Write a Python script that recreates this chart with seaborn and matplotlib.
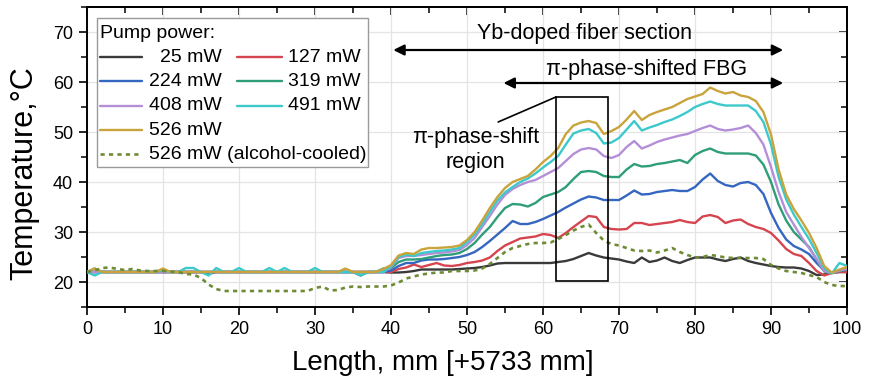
import matplotlib
matplotlib.use("Agg")
import matplotlib.pyplot as plt
import seaborn as sns
import pandas as pd
from matplotlib.ticker import MultipleLocator
from matplotlib.patches import Rectangle
from matplotlib.lines import Line2D

# ---------------- data ----------------
length_mm = list(range(0, 101))

p25 = [22.0, 22.0, 22.0, 22.0, 22.0, 22.0, 22.0, 22.0, 22.0, 22.0,
       22.0, 22.0, 22.0, 22.0, 22.0, 22.0, 22.0, 22.0, 22.0, 22.0,
       22.0, 22.0, 22.0, 22.0, 22.0, 22.0, 22.0, 22.0, 22.0, 22.0,
       22.0, 22.0, 22.0, 22.0, 22.0, 22.0, 22.0, 22.0, 22.0, 22.0,
       21.9, 21.9, 22.0, 22.2, 22.5, 22.5, 22.5, 22.5, 22.5, 22.6,
       22.7, 22.8, 23.0, 23.3, 23.7, 23.8, 23.8, 23.8, 23.8, 23.8,
       23.8, 23.8, 24.0, 24.2, 24.6, 25.2, 25.8, 25.3, 24.9, 24.7,
       24.5, 24.1, 23.8, 24.9, 24.0, 24.3, 24.9, 24.2, 23.8, 24.4,
       24.9, 24.9, 24.9, 24.5, 24.2, 24.6, 24.9, 24.2, 23.8, 23.5,
       23.2, 23.0, 22.9, 22.9, 22.7, 22.2, 21.4, 21.5, 21.9, 22.0, 22.0]

p127 = [22.0, 22.0, 22.0, 22.0, 22.0, 22.0, 22.0, 22.0, 22.0, 22.0,
        22.0, 22.0, 22.0, 22.0, 22.0, 22.0, 22.0, 22.0, 22.0, 22.0,
        22.0, 22.0, 22.0, 22.0, 22.0, 22.0, 22.0, 22.0, 22.0, 22.0,
        22.0, 22.0, 22.0, 22.0, 22.0, 22.0, 22.0, 22.0, 22.0, 22.0,
        22.0, 22.6, 22.9, 23.5, 23.0, 23.4, 23.8, 23.3, 23.2, 23.4,
        23.8, 24.0, 24.3, 24.9, 26.2, 27.3, 28.0, 28.7, 28.9, 29.1,
        29.6, 29.4, 28.8, 29.8, 31.0, 32.1, 33.2, 33.0, 31.0, 30.6,
        30.5, 30.6, 31.8, 31.8, 31.4, 31.6, 31.8, 32.0, 32.4, 32.0,
        31.8, 33.1, 33.4, 33.0, 31.8, 32.3, 32.5, 31.6, 31.0, 30.6,
        29.8, 28.3, 26.6, 25.6, 25.2, 23.8, 22.2, 21.3, 21.8, 22.0, 22.0]

p224 = [22.0, 22.0, 22.0, 22.0, 22.0, 22.0, 22.0, 22.0, 22.0, 22.0,
        22.0, 22.0, 22.0, 22.0, 22.0, 22.0, 21.6, 22.0, 22.0, 22.0,
        22.0, 22.0, 22.0, 22.0, 22.0, 22.0, 22.0, 22.0, 22.0, 22.0,
        22.0, 22.0, 22.0, 22.0, 22.0, 22.0, 21.3, 22.0, 22.0, 22.0,
        22.3, 23.2, 23.8, 23.8, 24.3, 24.5, 24.5, 24.6, 24.8, 25.0,
        25.4, 26.0, 27.0, 28.2, 29.5, 30.8, 32.2, 31.6, 31.6, 32.0,
        32.6, 33.3, 34.0, 34.9, 35.7, 36.5, 37.1, 36.9, 36.4, 36.4,
        36.4, 37.3, 38.3, 37.5, 37.6, 38.0, 38.2, 38.4, 38.2, 38.2,
        39.0, 40.5, 41.7, 40.2, 39.4, 39.1, 39.8, 40.0, 39.4, 37.6,
        33.8, 30.8, 28.5, 27.2, 26.5, 25.6, 23.8, 22.3, 21.9, 22.2, 22.5]

p319 = [22.0, 22.7, 22.0, 22.0, 22.0, 22.0, 22.0, 22.0, 22.0, 22.0,
        22.0, 22.0, 22.0, 22.0, 22.0, 22.0, 22.0, 22.0, 22.0, 22.0,
        22.0, 22.0, 22.0, 22.0, 22.0, 22.0, 22.0, 22.0, 22.0, 22.0,
        22.0, 22.0, 22.0, 22.0, 22.0, 22.0, 22.0, 22.0, 22.0, 22.7,
        22.8, 24.0, 24.5, 24.5, 24.6, 24.9, 25.2, 25.4, 25.5, 25.8,
        26.6, 27.8, 29.5, 31.0, 33.0, 34.8, 35.6, 35.5, 35.1, 35.8,
        37.0, 37.5, 38.0, 39.0, 40.6, 42.0, 42.2, 42.0, 41.2, 41.0,
        41.0, 42.5, 43.6, 43.1, 43.2, 43.6, 43.8, 44.1, 44.4, 43.8,
        45.4, 46.2, 46.7, 46.0, 45.7, 45.7, 45.7, 45.7, 45.3, 43.5,
        40.0, 35.5, 32.3, 30.0, 28.5, 27.0, 24.5, 22.1, 21.8, 22.2, 22.5]

p408 = [22.0, 22.0, 22.0, 22.0, 22.0, 22.0, 22.0, 22.0, 22.0, 22.0,
        22.0, 22.0, 22.0, 22.0, 22.0, 22.0, 22.0, 22.0, 22.0, 22.0,
        22.0, 22.0, 22.0, 22.0, 22.0, 22.0, 22.0, 22.0, 22.0, 22.0,
        22.0, 22.0, 22.0, 22.0, 22.0, 22.0, 22.0, 22.0, 22.0, 22.0,
        23.0, 24.8, 25.2, 25.2, 25.4, 25.6, 25.8, 25.9, 26.1, 26.4,
        27.4, 28.8, 31.0, 33.2, 35.5, 37.4, 38.6, 39.4, 40.0, 40.4,
        41.2, 42.0, 42.8, 44.2, 45.6, 46.5, 46.8, 46.5, 45.2, 44.8,
        45.4, 47.0, 48.2, 46.7, 47.3, 48.0, 48.5, 48.9, 49.3, 49.6,
        50.2, 50.8, 51.3, 50.6, 50.3, 50.5, 50.8, 51.3, 49.8, 47.5,
        43.0, 38.0, 34.0, 31.5, 29.0, 26.8, 24.6, 22.2, 21.8, 22.3, 22.6]

p491 = [22.0, 21.3, 22.0, 22.0, 22.0, 22.0, 22.0, 22.0, 22.0, 22.0,
        22.4, 22.0, 22.0, 22.8, 22.8, 22.0, 21.3, 22.8, 22.0, 22.0,
        22.8, 22.0, 22.0, 22.0, 22.8, 22.0, 22.8, 22.0, 22.0, 22.0,
        22.8, 22.0, 22.0, 22.0, 22.0, 22.0, 21.3, 22.0, 22.0, 22.0,
        23.2, 25.0, 25.5, 25.2, 25.8, 26.0, 26.2, 26.3, 26.5, 26.8,
        28.0, 29.5, 31.6, 34.0, 36.3, 37.9, 39.0, 40.0, 40.7, 41.7,
        42.9, 44.0, 45.2, 47.5, 49.7, 50.3, 50.6, 49.8, 47.7, 47.9,
        48.8, 50.5, 52.2, 50.3, 50.9, 51.4, 52.0, 52.5, 53.2, 54.0,
        55.0, 55.6, 56.1, 55.6, 55.3, 55.3, 55.3, 55.3, 54.2, 52.0,
        47.5, 41.0, 36.5, 33.5, 31.0, 28.6, 25.8, 22.8, 21.7, 23.8, 23.2]

p526 = [22.0, 22.7, 22.0, 22.0, 22.0, 22.0, 22.0, 22.0, 22.0, 22.0,
        22.7, 22.0, 22.0, 22.0, 22.0, 22.0, 22.0, 22.0, 22.0, 22.0,
        22.0, 22.0, 22.0, 22.0, 22.0, 22.0, 22.0, 22.0, 22.0, 22.0,
        22.0, 22.0, 22.0, 22.0, 22.7, 22.0, 22.0, 22.0, 22.0, 22.6,
        23.4, 25.3, 25.8, 25.6, 26.5, 26.8, 26.8, 26.9, 27.0, 27.3,
        28.4, 30.0, 32.3, 34.8, 37.0, 38.8, 40.0, 40.6, 41.2, 42.5,
        44.0, 45.2, 46.8, 49.6, 51.3, 51.9, 52.2, 51.8, 49.6, 50.2,
        51.0, 52.5, 54.2, 52.4, 53.4, 54.0, 54.5, 55.0, 55.8, 56.6,
        57.1, 57.6, 58.9, 58.2, 57.7, 58.0, 57.3, 57.0, 56.2, 54.0,
        49.5, 42.5, 37.5, 34.6, 32.3, 29.8, 26.8, 23.2, 21.9, 22.5, 23.0]

p526_cooled = [22.0, 22.3, 22.8, 22.9, 22.6, 22.4, 22.6, 22.3, 22.2, 22.2,
               22.2, 22.1, 22.0, 21.6, 21.5, 20.8, 19.5, 18.6, 18.2, 18.2,
               18.2, 18.2, 18.2, 18.2, 18.2, 18.2, 18.2, 18.2, 18.2, 18.2,
               18.8, 19.1, 18.3, 18.4, 18.9, 19.1, 19.0, 19.1, 19.1, 19.1,
               19.3, 19.9, 20.7, 21.1, 21.5, 21.7, 21.9, 21.9, 22.2, 22.2,
               22.2, 22.3, 22.7, 23.6, 24.8, 26.0, 26.8, 27.2, 27.6, 27.8,
               27.8, 27.9, 28.6, 29.4, 30.3, 31.0, 31.5, 29.8, 28.3, 27.6,
               27.3, 26.8, 26.3, 26.2, 26.3, 25.9, 26.3, 26.8, 26.0, 25.4,
               24.9, 25.0, 25.4, 25.2, 24.9, 24.8, 24.8, 24.8, 24.8, 24.6,
               23.4, 22.7, 22.2, 22.0, 21.8, 21.4, 21.0, 20.0, 19.4, 19.2, 19.2]

power_labels = ["25 mW", "127 mW", "224 mW", "319 mW", "408 mW", "491 mW", "526 mW"]
cooled_label = "526 mW (alcohol-cooled)"
series = [p25, p127, p224, p319, p408, p491, p526]
colors = ["#3a3a3a", "#d6454f", "#3566c0", "#2e9e78", "#b48fd8", "#3cc9cc", "#c9a43c"]
cooled_color = "#6e8b35"

x_ticks = [0, 10, 20, 30, 40, 50, 60, 70, 80, 90, 100]
y_ticks = [20, 30, 40, 50, 60, 70]

# ---------------- style ----------------
sns.set_style("ticks")
plt.rcParams["font.family"] = ["Liberation Sans", "DejaVu Sans"]
plt.rcParams["axes.linewidth"] = 1.4
plt.rcParams["text.color"] = "black"
plt.rcParams["axes.labelcolor"] = "black"
plt.rcParams["xtick.color"] = "black"
plt.rcParams["ytick.color"] = "black"
plt.rcParams["xtick.labelcolor"] = "black"
plt.rcParams["ytick.labelcolor"] = "black"

fig = plt.figure(figsize=(8.69, 3.84), dpi=100)
ax = fig.add_axes([0.1001, 0.2005, 0.8746, 0.78125])

rows = []
for lab, vals in zip(power_labels, series):
    for xv, yv in zip(length_mm, vals):
        rows.append({"Length": xv, "T": yv, "Power": lab})
df = pd.DataFrame(rows)

sns.lineplot(data=df, x="Length", y="T", hue="Power", hue_order=power_labels,
             palette=dict(zip(power_labels, colors)), linewidth=1.7,
             legend=False, ax=ax, zorder=3)
sns.lineplot(x=length_mm, y=p526_cooled, color=cooled_color, linewidth=1.9,
             linestyle=(0, (1.6, 1.6)), ax=ax, zorder=4)

ax.set_xlim(0, 100)
ax.set_ylim(15, 75)
ax.set_xticks(x_ticks)
ax.set_yticks(y_ticks)
ax.xaxis.set_minor_locator(MultipleLocator(5))
ax.yaxis.set_minor_locator(MultipleLocator(5))
ax.tick_params(which="major", direction="out", length=6, width=1.2,
               labelsize=13, pad=4, color="black", labelcolor="black")
ax.tick_params(which="minor", direction="out", length=4, width=1.1, color="black")
ax.grid(True, which="major", color="#e4e4e4", linewidth=0.9, zorder=0)
for s in ax.spines.values():
    s.set_color("black")
    s.set_linewidth(1.4)

secx = ax.secondary_xaxis("top")
secx.set_xticks(x_ticks)
secx.xaxis.set_minor_locator(MultipleLocator(5))
secx.tick_params(which="both", direction="in", labeltop=False, width=1.1, color="black")
secx.tick_params(which="major", length=6)
secx.tick_params(which="minor", length=4)
secy = ax.secondary_yaxis("right")
secy.set_yticks(y_ticks)
secy.yaxis.set_minor_locator(MultipleLocator(5))
secy.tick_params(which="both", direction="in", labelright=False, width=1.1, color="black")
secy.tick_params(which="major", length=6)
secy.tick_params(which="minor", length=4)

ax.set_xlabel("Length, mm [+5733 mm]", fontsize=20, color="black")
ax.set_ylabel("Temperature,°C", fontsize=22, color="black")
ax.xaxis.set_label_coords(0.468, -0.142)
ax.yaxis.set_label_coords(-0.062, 0.447)

# ---------------- annotations ----------------
arrow_kw = dict(arrowstyle="<|-|>", color="black", lw=1.6, mutation_scale=16,
                shrinkA=0, shrinkB=0)
ax.annotate("", xy=(40.3, 66.4), xytext=(91.6, 66.4), arrowprops=arrow_kw, zorder=6)
ax.annotate("", xy=(54.8, 59.8), xytext=(91.6, 59.8), arrowprops=arrow_kw, zorder=6)
ax.text(65.4, 69.8, "Yb-doped fiber section", fontsize=15.5, ha="center", va="center")
ax.text(73.6, 62.5, "π-phase-shifted FBG", fontsize=15.5, ha="center", va="center")
ax.add_patch(Rectangle((61.7, 20.2), 6.8, 36.8, fill=False, edgecolor="black",
                       linewidth=1.2, zorder=5))
ax.plot([61.7, 54.1], [57.0, 52.0], color="black", lw=1.2, zorder=5)
ax.text(51.1, 46.4, "π-phase-shift\nregion", fontsize=15.5, ha="center",
        va="center", linespacing=1.25)

# ---------------- legend (manual layout, Origin style) ----------------
tr = ax.transAxes
ax.add_patch(Rectangle((0.0132, 0.4667), 0.3565, 0.4966, transform=tr,
                       facecolor="white", edgecolor="#9a9a9a", linewidth=1.0,
                       zorder=7))
ax.text(0.0171, 0.913, "Pump power:", transform=tr, fontsize=14, ha="left",
        va="center", zorder=8)
row_y = [0.833, 0.752, 0.671, 0.590, 0.509]
col1 = [0, 2, 4, 6]
col2 = [1, 3, 5]
for r, idx in enumerate(col1):
    ax.add_line(Line2D([0.0171, 0.0724], [row_y[r], row_y[r]], transform=tr,
                       color=colors[idx], lw=1.7, zorder=8))
    ax.text(0.1776, row_y[r], power_labels[idx], transform=tr, fontsize=14,
            ha="right", va="center", zorder=8)
for r, idx in enumerate(col2):
    ax.add_line(Line2D([0.197, 0.2566], [row_y[r], row_y[r]], transform=tr,
                       color=colors[idx], lw=1.7, zorder=8))
    ax.text(0.2645, row_y[r], power_labels[idx], transform=tr, fontsize=14,
            ha="left", va="center", zorder=8)
ax.add_line(Line2D([0.0171, 0.0724], [row_y[4], row_y[4]], transform=tr,
                   color=cooled_color, lw=1.9, linestyle=(0, (1.6, 1.6)), zorder=8))
ax.text(0.0816, row_y[4], cooled_label, transform=tr, fontsize=14, ha="left",
        va="center", zorder=8)

fig.savefig("out.png", dpi=100)
